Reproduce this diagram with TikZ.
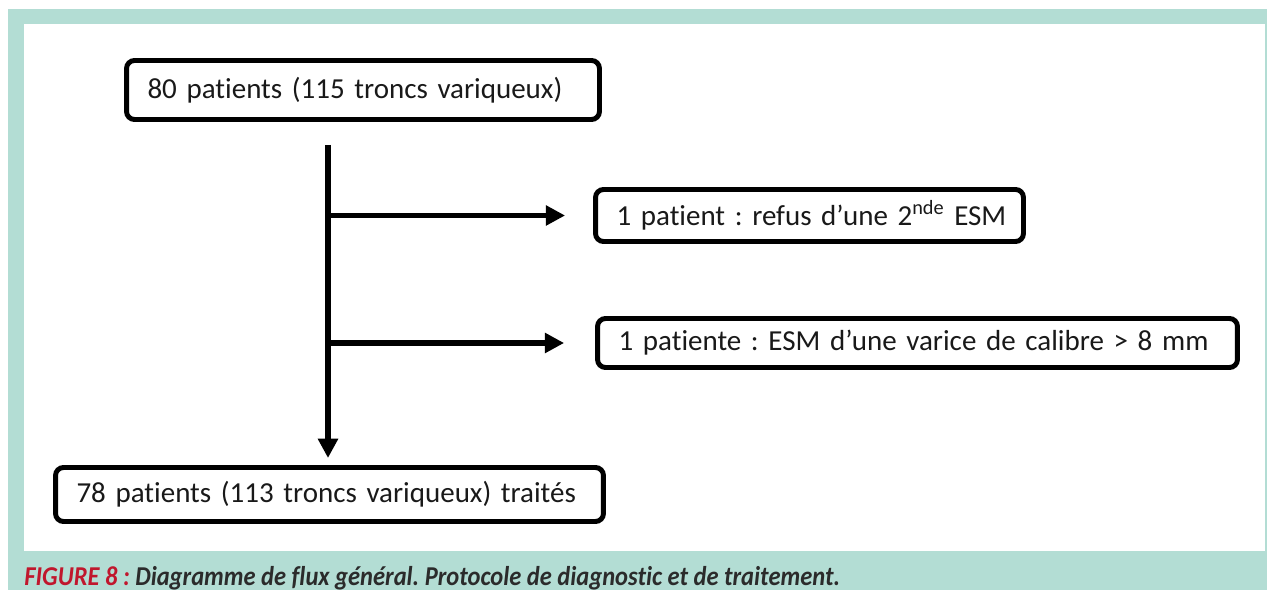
\documentclass[tikz,border=0pt]{standalone}
\usepackage{fontspec}
\setmainfont{Carlito}[Ligatures={NoCommon}, WordSpace=0.5]
\newfontfamily\capfont{Carlito}[Ligatures={NoCommon}]
\frenchspacing
\usepackage{tikz}
\usetikzlibrary{arrows.meta, positioning}
\definecolor{mint}{HTML}{B3DDD4}
\definecolor{capred}{HTML}{C0172D}
\definecolor{capgray}{HTML}{2B2B2B}
\tikzstyle{box}=[draw, line width=2.8pt, rounded corners=4.5pt, inner xsep=0.42cm, inner ysep=0pt, align=left, font=\fontsize{16.5}{20}\selectfont, text=black!90]
\tikzstyle{flow}=[line width=3.2pt, -{Triangle[length=11pt, width=11pt]}]

\begin{document}
\begin{tikzpicture}[x=0.02cm, y=-0.02cm]
		\useasboundingbox (0,0) rectangle (1267,590);
		\fill[mint] (8,9) rectangle (1267,590);
		\fill[white] (24,24) rectangle (1265,551);
		\node[box, text width=8.62cm, minimum height=1.18cm] (start) at (363,90) {\mbox{80 patients (115 troncs variqueux)}};
		\node[box, text width=7.72cm, minimum height=1.04cm] (refus) at (809.5,215.5) {\mbox{1 patient : refus d’une 2\textsuperscript{nde} ESM}};
		\node[box, text width=11.96cm, minimum height=0.98cm] (varice) at (917.5,343) {\mbox{1 patiente : ESM d’une varice de calibre > 8 mm}};
		\node[box, text width=10.12cm, minimum height=1.08cm] (traites) at (329.5,494.5) {\mbox{78 patients (113 troncs variqueux) traités}};
		\coordinate (top) at (328,145);
		\coordinate (bottom) at (328,458);
		\coordinate (j1) at (top |- refus.west);
		\coordinate (j2) at (top |- varice.west);
		\draw[flow] (top) -- (bottom);
		\draw[flow] (j1) -- ([xshift=-0.56cm]refus.west);
		\draw[flow] (j2) -- ([xshift=-0.62cm]varice.west);
		\node[anchor=base west, inner sep=0, text=capgray, font=\capfont\fontsize{15.5}{18}\selectfont\bfseries\itshape] (caption) at (24,585) {\scalebox{0.9}[1]{\textcolor{capred}{FIGURE 8 :} Diagramme de flux général. Protocole de diagnostic et de traitement.}};
	\end{tikzpicture}
\end{document}
